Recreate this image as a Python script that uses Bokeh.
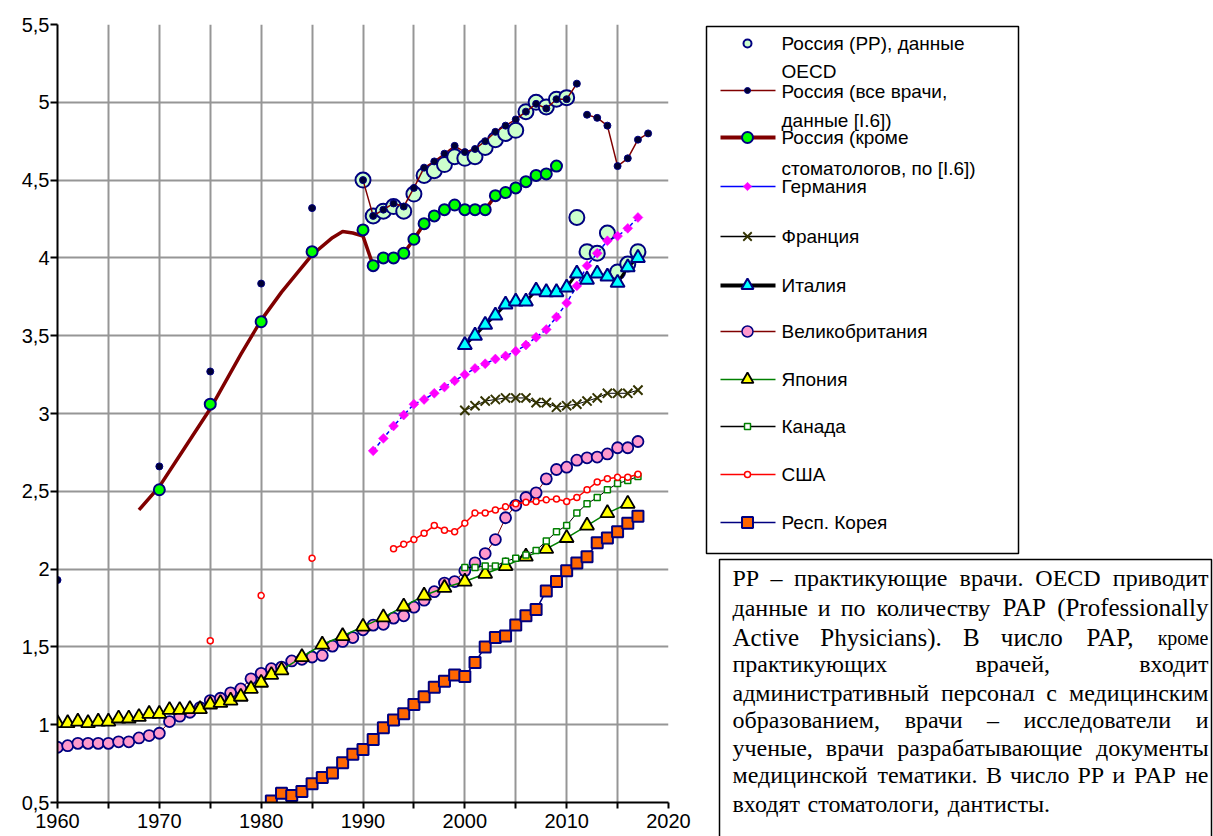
from bokeh.plotting import figure
from bokeh.models import Range1d, FixedTicker, CustomJSTickFormatter
from bokeh.layouts import row, column
from bokeh.embed import file_html
from bokeh.resources import INLINE
from bokeh.core.properties import value

# ---------------- data ----------------
x_ticks = list(range(1960, 2021, 5))
y_ticks = [0.5, 1.0, 1.5, 2.0, 2.5, 3.0, 3.5, 4.0, 4.5, 5.0, 5.5]

ru_pp_years = list(range(1990, 2018))
ru_pp = [4.50, 4.27, 4.30, 4.33, 4.30, 4.41, 4.53, 4.56, 4.60, 4.65, 4.64, 4.65, 4.71, 4.76,
         4.80, 4.82, 4.94, 5.00, 4.97, 5.02, 5.03, 4.26, 4.04, 4.03, 4.16, 3.91, 3.96, 4.04]

ru_all_early_years = [1960, 1970, 1975, 1980, 1985]
ru_all_early = [1.93, 2.66, 3.27, 3.835, 4.32]
ru_all_years = list(range(1990, 2019))
ru_all = [4.50, 4.27, 4.31, 4.35, 4.33, 4.45, 4.58, 4.62, 4.67, 4.72, 4.68, 4.70, 4.75, 4.81,
          4.85, 4.89, 4.94, 4.99, 4.96, 5.02, 5.02, 5.12, 4.92, 4.90, 4.85, 4.59, 4.64, 4.76, 4.80]

ru_excl_years = [1970, 1975, 1980, 1985] + list(range(1990, 2010))
ru_excl = [2.51, 3.06, 3.59, 4.04, 4.18, 3.95, 4.00, 4.00, 4.03, 4.12, 4.22, 4.27, 4.31, 4.34,
           4.31, 4.31, 4.31, 4.40, 4.42, 4.45, 4.49, 4.53, 4.54, 4.59]
ru_excl_curve_years = [1968, 1970, 1972, 1975, 1978, 1980, 1982, 1985, 1987, 1988, 1989, 1990]
ru_excl_curve = [2.38, 2.53, 2.73, 3.03, 3.38, 3.60, 3.78, 4.02, 4.13, 4.17, 4.16, 4.14]

de_years = list(range(1991, 2018))
de = [2.76, 2.84, 2.92, 2.99, 3.06, 3.09, 3.13, 3.17, 3.21, 3.25, 3.29, 3.32, 3.35, 3.37,
      3.40, 3.44, 3.49, 3.54, 3.62, 3.71, 3.82, 3.95, 4.03, 4.11, 4.14, 4.19, 4.26]

fr_years = list(range(2000, 2018))
fr = [3.02, 3.05, 3.08, 3.09, 3.10, 3.10, 3.10, 3.07, 3.07, 3.04, 3.05, 3.06, 3.08, 3.10,
      3.13, 3.13, 3.13, 3.15]

it_years = list(range(2000, 2018))
it = [3.44, 3.50, 3.57, 3.63, 3.70, 3.72, 3.72, 3.79, 3.78, 3.78, 3.81, 3.90, 3.86, 3.90,
      3.88, 3.84, 3.94, 4.00]

uk_years = list(range(1960, 2018))
uk = [0.855, 0.865, 0.88, 0.88, 0.88, 0.88, 0.89, 0.89, 0.915, 0.93,
      0.945, 1.02, 1.055, 1.08, 1.11, 1.155, 1.17, 1.205, 1.23, 1.295,
      1.33, 1.36, 1.37, 1.41, 1.42, 1.435, 1.445, 1.505, 1.535, 1.56,
      1.61, 1.64, 1.645, 1.685, 1.70, 1.755, 1.80, 1.855, 1.91, 1.92,
      1.99, 2.04, 2.10, 2.19, 2.33, 2.41, 2.46, 2.49, 2.58, 2.64,
      2.655, 2.70, 2.715, 2.72, 2.74, 2.78, 2.78, 2.82]

jp_years = list(range(1960, 1983)) + list(range(1984, 2017, 2))
jp = [1.01, 1.01, 1.02, 1.01, 1.02, 1.02, 1.04, 1.04, 1.05, 1.07, 1.07, 1.095, 1.095, 1.10,
      1.10, 1.13, 1.14, 1.155, 1.18, 1.23, 1.27, 1.32, 1.35,
      1.435, 1.515, 1.57, 1.63, 1.69, 1.76, 1.83, 1.88, 1.92, 1.97, 2.02, 2.08, 2.13, 2.20,
      2.28, 2.36, 2.42]

ca_years = list(range(2000, 2018))
ca = [2.01, 2.01, 2.02, 2.02, 2.05, 2.07, 2.09, 2.12, 2.18, 2.24, 2.28, 2.36, 2.42, 2.46,
      2.51, 2.55, 2.57, 2.595]

us_early_years = [1975, 1980, 1985]
us_early = [1.54, 1.83, 2.07]
us_years = list(range(1993, 2018))
us = [2.13, 2.16, 2.19, 2.23, 2.28, 2.25, 2.24, 2.295, 2.36, 2.36, 2.38, 2.40, 2.42, 2.43,
      2.435, 2.445, 2.45, 2.435, 2.46, 2.51, 2.56, 2.58, 2.59, 2.59, 2.61]

kr_years = list(range(1981, 2018))
kr = [0.51, 0.56, 0.545, 0.57, 0.62, 0.66, 0.69, 0.755, 0.81, 0.84,
      0.905, 0.98, 1.03, 1.07, 1.13, 1.18, 1.24, 1.28, 1.32, 1.31,
      1.40, 1.50, 1.56, 1.57, 1.64, 1.70, 1.74, 1.86, 1.92, 1.99,
      2.04, 2.08, 2.17, 2.20, 2.24, 2.295, 2.34]

legend_labels = [
    ["Россия (РР), данные", "OECD"],
    ["Россия (все врачи,", "данные [I.6])"],
    ["Россия (кроме", "стоматологов, по [I.6])"],
    ["Германия"], ["Франция"], ["Италия"], ["Великобритания"], ["Япония"],
    ["Канада"], ["США"], ["Респ. Корея"],
]

note_lines = [
    [("РР – практикующие врачи. OECD приводит", 24)],
    [("данные и по количеству", 24), ("PAP (Professionally", 25)],
    [("Active Physicians). В число PAP,", 25), ("кроме", 20)],
    [("практикующих врачей, входит", 24)],
    [("административный персонал с медицинским", 24)],
    [("образованием, врачи – исследователи и", 24)],
    [("ученые, врачи разрабатывающие документы", 24)],
    [("медицинской тематики. В число РР и PAP не", 24)],
    [("входят стоматологи, дантисты.", 24)],
]

NAVY = "#000080"
MAROON = "#800000"
FONT = "Liberation Sans"

# ---------------- main chart ----------------
PW, PH = 698, 836
p = figure(width=PW, height=PH, x_range=Range1d(1960, 2020), y_range=Range1d(0.5, 5.5),
           output_backend="svg", toolbar_location=None,
           min_border_left=57, min_border_right=30, min_border_top=24, min_border_bottom=34)
p.outline_line_color = None

p.xaxis.ticker = FixedTicker(ticks=x_ticks)
p.yaxis.ticker = FixedTicker(ticks=y_ticks)
p.xgrid.ticker = FixedTicker(ticks=x_ticks)
p.ygrid.ticker = FixedTicker(ticks=y_ticks)
p.xaxis.formatter = CustomJSTickFormatter(
    code="var t = Math.round(tick); return (t % 10 === 0) ? String(t) : '';")
p.yaxis.formatter = CustomJSTickFormatter(
    code="var s = (Math.round(tick*10)/10).toString(); return s.replace('.', ',');")

for ax in (p.xaxis[0], p.yaxis[0]):
    ax.axis_line_color = "black"
    ax.axis_line_width = 2
    ax.major_tick_line_color = "black"
    ax.major_tick_line_width = 2
    ax.major_tick_in = 0
    ax.minor_tick_line_color = None
    ax.major_label_text_font = FONT
    ax.major_label_text_color = "black"
    ax.major_label_text_font_size = "20px"
p.yaxis.major_tick_out = 7
p.yaxis.major_label_standoff = 1
p.xaxis.major_tick_out = 6
p.xaxis.major_label_standoff = 5

p.grid.grid_line_color = "#969696"
p.grid.grid_line_width = 2
p.grid.grid_line_alpha = 1.0

# Russia PP (OECD)
p.scatter(ru_pp_years, ru_pp, marker="circle", size=15, fill_color="#CCFFCC",
          line_color=NAVY, line_width=2)
# Russia all doctors
brk = ru_all_years.index(2012)
p.line(ru_all_years[:brk], ru_all[:brk], line_color=MAROON, line_width=1.5)
p.line(ru_all_years[brk:], ru_all[brk:], line_color=MAROON, line_width=1.5)
p.scatter(ru_all_early_years + ru_all_years, ru_all_early + ru_all, marker="circle", size=7,
          fill_color="#000033", line_color=NAVY, line_width=1)
# Russia excluding dentists
p.line(ru_excl_curve_years + ru_excl_years[5:], ru_excl_curve + ru_excl[5:],
       line_color=MAROON, line_width=3.5)
p.scatter(ru_excl_years, ru_excl, marker="circle", size=11, fill_color="#00FF00",
          line_color=NAVY, line_width=2)
# Germany
p.line(de_years, de, line_color="#0000FF", line_width=1.5, line_dash="4 3")
p.scatter(de_years, de, marker="square", angle=0.785398, size=7, fill_color="#FF00FF",
          line_color="#FF00FF", line_width=0.5)
# France
p.line(fr_years, fr, line_color="#000000", line_width=1)
p.scatter(fr_years, fr, marker="x", size=13, line_color="#333300", line_width=2)
# Italy
p.line(it_years, it, line_color="black", line_width=3)
p.scatter(it_years, it, marker="triangle", size=14, fill_color="#00FFFF",
          line_color=NAVY, line_width=2)
# UK
p.line(uk_years, uk, line_color=MAROON, line_width=1)
p.scatter(uk_years, uk, marker="circle", size=11, fill_color="#FF99CC",
          line_color=NAVY, line_width=1.8)
# Japan
p.line(jp_years, jp, line_color="#008000", line_width=1.5)
p.scatter(jp_years, jp, marker="triangle", size=14, fill_color="#FFFF00",
          line_color="black", line_width=1.8)
# Canada
p.line(ca_years, ca, line_color="black", line_width=1)
p.scatter(ca_years, ca, marker="square", size=6, fill_color="white",
          line_color="#008000", line_width=1.5)
# USA
p.line(us_years, us, line_color="#FF0000", line_width=1.5)
p.scatter(us_early_years + us_years, us_early + us, marker="circle", size=6,
          fill_color="white", line_color="#FF0000", line_width=1.5)
# Korea
p.line(kr_years, kr, line_color=NAVY, line_width=1.5)
p.scatter(kr_years, kr, marker="square", size=11, fill_color="#FF6600",
          line_color=NAVY, line_width=2)

# ---------------- right panel (legend + note), pixel coordinates ----------------
QW, QH = 1213 - PW, PH
q = figure(width=QW, height=QH, x_range=Range1d(0, QW), y_range=Range1d(QH, 0),
           output_backend="svg", toolbar_location=None, min_border=0,
           x_axis_location=None, y_axis_location=None)
q.grid.visible = False
q.outline_line_color = None

# legend box
q.quad(left=[8], right=[320], top=[26], bottom=[553], fill_color=None,
       line_color="black", line_width=1.5)

rows_y = [43, 90, 137, 186, 236, 285, 331, 379, 426, 474, 522]
LX0, LX1, LXM, TX = 22, 77, 49, 83
sym = [
    (None, 0, "circle", 8, "#CCFFCC", NAVY, 2, 0.0),
    (MAROON, 1.5, "circle", 6, "#000033", NAVY, 1, 0.0),
    (MAROON, 4, "circle", 11, "#00FF00", NAVY, 2, 0.0),
    ("#0000FF", 1.5, "square", 6, "#FF00FF", "#FF00FF", 0.5, 0.785398),
    ("black", 1.5, "x", 12, None, "#333300", 1.8, 0.0),
    ("black", 4, "triangle", 12, "#00FFFF", NAVY, 2, 0.0),
    (MAROON, 1.5, "circle", 11, "#FF99CC", NAVY, 1.5, 0.0),
    ("#008000", 1.5, "triangle", 12, "#FFFF00", "black", 1.8, 0.0),
    ("black", 1.5, "square", 6, "white", "#008000", 1.5, 0.0),
    ("#FF0000", 1.5, "circle", 6, "white", "#FF0000", 1.5, 0.0),
    (NAVY, 1.5, "square", 11, "#FF6600", NAVY, 2, 0.0),
]
for yy, (lc, lw, mk, sz, fc, mc, mw, ang) in zip(rows_y, sym):
    if lc is not None:
        q.line([LX0, LX1], [yy, yy], line_color=lc, line_width=lw)
    q.scatter([LXM], [yy], marker=mk, size=sz, fill_color=fc, line_color=mc,
              line_width=mw, angle=ang)

lt_x, lt_y, lt_t = [], [], []
second_dy = [28, 30, 31]
for i, (yy, labs) in enumerate(zip(rows_y, legend_labels)):
    for j, lab in enumerate(labs):
        lt_x.append(TX)
        lt_y.append(yy + (second_dy[i] if j else 0) + (1 if (j == 0 and i == 1) else 0))
        lt_t.append(lab)
q.text(x=lt_x, y=lt_y, text=lt_t, text_font=value(FONT), text_font_size="19px",
       text_baseline="middle", text_align="left", text_color="black")

# note box
q.line([21, 21, 513, 513], [QH + 5, 559, 559, QH + 5], line_color="black", line_width=1.5)

# approximate Times-like advance widths (per 1000 em) for justification
W = {}
for ch, w in zip("abcdefghijklmnopqrstuvwxyz",
                 [444, 500, 444, 500, 444, 333, 500, 500, 278, 278, 500, 278, 778, 500, 500,
                  500, 500, 333, 389, 278, 500, 500, 722, 500, 500, 444]):
    W[ch] = w
for ch, w in zip("ABCDEFGHIJKLMNOPQRSTUVWXYZ",
                 [722, 667, 667, 722, 611, 556, 722, 722, 333, 389, 722, 611, 889, 722, 722,
                  556, 722, 667, 556, 611, 722, 722, 944, 722, 722, 611]):
    W[ch] = w
for ch, w in zip("абвгдежзийклмнопрстуфхцчшщъыьэюя",
                 [444, 509, 472, 410, 509, 444, 691, 395, 535, 535, 486, 499, 633, 535, 500,
                  535, 500, 444, 437, 500, 648, 500, 535, 503, 770, 770, 517, 672, 456, 429,
                  747, 460]):
    W[ch] = w
W.update({"В": 667, "Р": 556, "А": 722, " ": 250, ",": 250, ".": 250, "(": 333, ")": 333,
          "–": 500})

NL, NR = 34, 510
note_y = [577.5, 607, 637, 663, 692, 719.5, 747, 774.5, 803]
groups = {}
for li, (segs, yy) in enumerate(zip(note_lines, note_y)):
    words = []
    for s, sz in segs:
        for w in s.split(" "):
            words.append((w, sz))
    widths = [sum(W.get(c, 500) for c in w) / 1000.0 * sz for w, sz in words]
    last = (li == len(note_lines) - 1)
    if last or len(words) == 1:
        gap = 0.25 * words[0][1]
    else:
        gap = (NR - NL - sum(widths)) / (len(words) - 1)
    xcur = NL
    for k, ((w, sz), wd) in enumerate(zip(words, widths)):
        if last or k == 0:
            key, xx = (sz, "left"), xcur
        elif k == len(words) - 1:
            key, xx = (sz, "right"), NR
        else:
            key, xx = (sz, "center"), xcur + wd / 2.0
        groups.setdefault(key, ([], [], []))
        groups[key][0].append(xx)
        groups[key][1].append(yy)
        groups[key][2].append(w)
        xcur += wd + gap

for (sz, al), (xs, ys, ts) in groups.items():
    q.text(x=xs, y=ys, text=ts, text_font=value("Liberation Serif"),
           text_font_size="%dpx" % sz, text_baseline="middle", text_align=al,
           text_color="black")

layout = row(column(p), column(q))
open("out.html", "w").write(file_html(layout, INLINE))
